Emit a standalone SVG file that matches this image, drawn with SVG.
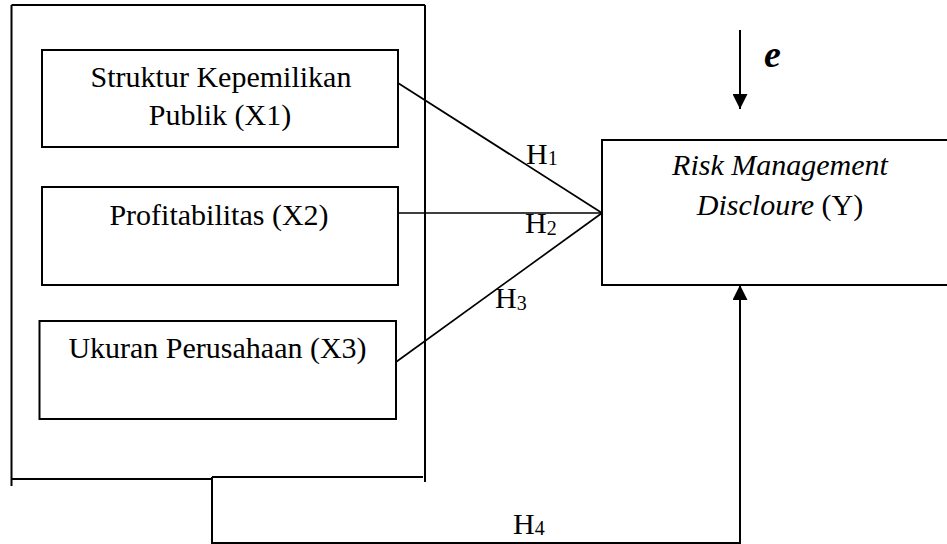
<svg xmlns="http://www.w3.org/2000/svg" width="947" height="544" viewBox="0 0 947 544">
<style>
.box{fill:none;stroke:#000;stroke-width:2}
.ln{fill:none;stroke:#000;stroke-width:1.7}
.t{font-family:"Liberation Serif","Times New Roman",serif;font-size:30px;fill:#000}
.s{font-size:20px}
.i{font-style:italic}
</style>
<defs>
<marker id="ah" viewBox="0 0 10 10" refX="10" refY="5" markerWidth="15" markerHeight="15" markerUnits="userSpaceOnUse" orient="auto">
<path d="M0,0 L10,5 L0,10 Z" fill="#000"/>
</marker>
</defs>
<rect width="947" height="544" fill="#fff"/>
<g id="outer">
<path class="box" d="M11.5,5 H425 M11.5,5 V486 M425,5 V482 M11.5,479 H212 M212,477 H423"/>
</g>
<g id="x1">
<rect class="box" x="42" y="50" width="356" height="97"/>
<text class="t" x="221" y="87" text-anchor="middle">Struktur Kepemilikan</text>
<text class="t" x="220" y="125" text-anchor="middle">Publik (X1)</text>
</g>
<g id="x2">
<rect class="box" x="42" y="187" width="356" height="98"/>
<text class="t" x="219" y="225" text-anchor="middle">Profitabilitas (X2)</text>
</g>
<g id="x3">
<rect class="box" x="39.5" y="321" width="356.5" height="98"/>
<text class="t" x="217.5" y="358" text-anchor="middle">Ukuran Perusahaan (X3)</text>
</g>
<g id="y">
<rect class="box" x="602" y="140" width="360" height="145"/>
<text class="t i" x="780" y="175" text-anchor="middle">Risk Management</text>
<text class="t" x="780" y="215" text-anchor="middle"><tspan class="i">Discloure</tspan> (Y)</text>
</g>
<g id="error">
<text class="t" x="764" y="67" style="font-weight:bold;font-style:italic;font-size:38px">e</text>
</g>
<g id="connectors">
<line class="ln" x1="398" y1="83" x2="602" y2="213"/>
<line class="ln" x1="398" y1="213" x2="602" y2="213"/>
<line class="ln" x1="396" y1="362" x2="602" y2="213"/>
<path class="box" d="M212,477 V543 H740 V285" marker-end="url(#ah)"/>
<line class="box" x1="740" y1="30" x2="740" y2="109" marker-end="url(#ah)"/>
<text class="t" x="526" y="164">H<tspan class="s" dy="1">1</tspan></text>
<text class="t" x="525" y="233">H<tspan class="s" dy="2">2</tspan></text>
<text class="t" x="495" y="308">H<tspan class="s" dy="2">3</tspan></text>
<text class="t" x="513" y="534">H<tspan class="s" dy="1">4</tspan></text>
</g>
</svg>
